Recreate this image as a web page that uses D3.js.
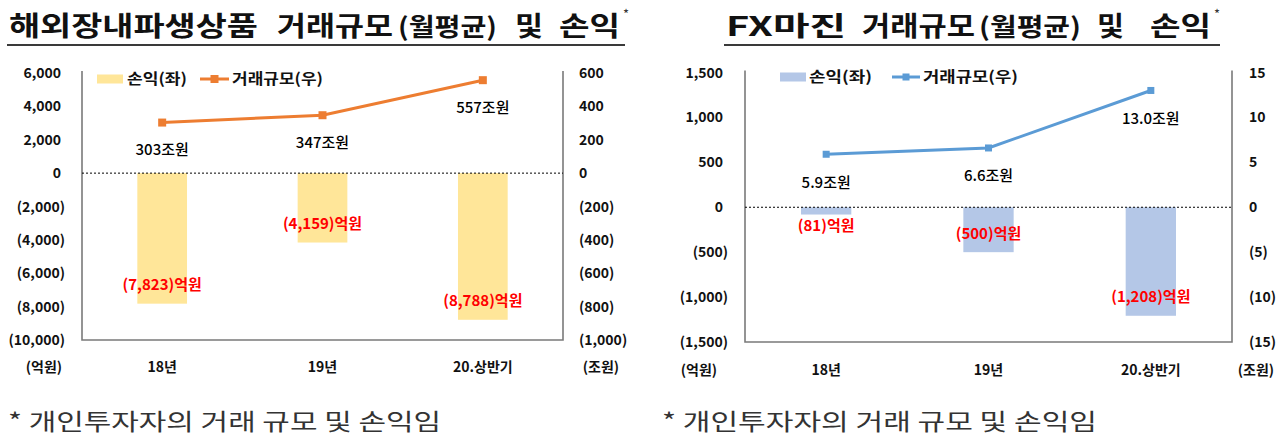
<!DOCTYPE html>
<html>
<head>
<meta charset="utf-8">
<script src="https://cdn.jsdelivr.net/npm/d3@7"></script>
<style>
  body { margin: 0; background: #fff; }
  svg { display: block; font-family: 'Noto Sans CJK KR', 'Noto Sans', sans-serif; }
</style>
</head>
<body>
<svg width="1280" height="448"></svg>
<script>
// Two side-by-side charts: 해외장내파생상품 / FX마진
const categories = ['18년', '19년', '20.상반기'];

const futuresPnl = [-7823, -4159, -8788];      // 억원 (left axis)
const futuresVolume = [303, 347, 557];          // 조원 (right axis)
const futuresLeftTicks = [6000, 4000, 2000, 0, -2000, -4000, -6000, -8000, -10000];
const futuresRightTicks = [600, 400, 200, 0, -200, -400, -600, -800, -1000];

const fxPnl = [-81, -500, -1208];               // 억원 (left axis)
const fxVolume = [5.9, 6.6, 13.0];              // 조원 (right axis)
const fxLeftTicks = [1500, 1000, 500, 0, -500, -1000, -1500];
const fxRightTicks = [15, 10, 5, 0, -5, -10, -15];

const legendNames = ['손익(좌)', '거래규모(우)'];
const unitNames = ['(억원)', '(조원)'];
const footnote = '* 개인투자자의 거래 규모 및 손익임';

const SVG = d3.select('svg');

const paren = v => v < 0 ? `(${d3.format(',')(-v)})` : d3.format(',')(v);

function drawTitle(pieces, star, underline) {
  pieces.forEach(p => {
    SVG.append('text')
       .attr('x', p.x0).attr('y', 36)
       .attr('textLength', p.x1 - p.x0)
       .attr('lengthAdjust', 'spacingAndGlyphs')
       .style('font-size', p.size + 'px')
       .style('font-weight', 700)
       .attr('fill', '#111')
       .text(p.t);
  });
  SVG.append('text').attr('x', star).attr('y', 19)
     .style('font-size', '13px').attr('fill', '#333').text('*');
  SVG.append('line')
     .attr('x1', underline[0]).attr('x2', underline[1])
     .attr('y1', 45).attr('y2', 45)
     .attr('stroke', '#3a3a3a').attr('stroke-width', 2);
}

function drawChart(c) {
  const g = SVG.append('g');

  const x = d3.scaleBand().domain(categories).range([c.x0, c.x1])
              .paddingInner(0.69).paddingOuter(0.345);
  const yL = d3.scaleLinear().domain(d3.extent(c.leftTicks)).range([c.yBot, c.yTop]);
  const yR = d3.scaleLinear().domain(d3.extent(c.rightTicks)).range([c.yBot, c.yTop]);
  const cx = d => x(d) + x.bandwidth() / 2;

  // bars
  g.selectAll('rect.bar').data(c.pnl).enter().append('rect')
   .attr('x', (d, i) => x(categories[i]))
   .attr('width', x.bandwidth())
   .attr('y', d => yL(Math.max(0, d)))
   .attr('height', d => Math.abs(yL(d) - yL(0)))
   .attr('fill', c.barColor);

  // frame: left, right, bottom
  const frame = `M${c.x0},${c.yTop - 2}V${c.yBot}H${c.x1}V${c.yTop - 2}`;
  g.append('path').attr('d', frame).attr('fill', 'none')
   .attr('stroke', '#7a7a7a').attr('stroke-width', 1.6);

  // zero line
  g.append('line').attr('x1', c.x0).attr('x2', c.x1)
   .attr('y1', yL(0)).attr('y2', yL(0))
   .attr('stroke', '#000').attr('stroke-width', 1).attr('stroke-dasharray', '2,2');

  // left ticks
  g.selectAll('text.lt').data(c.leftTicks).enter().append('text')
   .attr('x', c.leftLabelX).attr('dx', d => d < 0 ? 0 : -c.posShift)
   .attr('y', d => yL(d)).attr('dy', '0.36em')
   .attr('text-anchor', 'end')
   .style('font-size', '14px').style('font-weight', 700).attr('fill', '#111')
   .text(paren);

  // right ticks
  g.selectAll('text.rt').data(c.rightTicks).enter().append('text')
   .attr('x', c.rightLabelX)
   .attr('y', d => yR(d)).attr('dy', '0.36em')
   .style('font-size', '14px').style('font-weight', 700).attr('fill', '#111')
   .text(paren);

  // category labels
  g.selectAll('text.cat').data(categories).enter().append('text')
   .attr('x', cx).attr('y', c.catY).attr('dy', '0.36em')
   .attr('text-anchor', 'middle')
   .style('font-size', '14px').style('font-weight', 700).attr('fill', '#111')
   .text(d => d);

  // units
  [c.unitLeftX, c.unitRightX].forEach((ux, i) => {
    g.append('text').attr('x', ux).attr('y', c.catY).attr('dy', '0.36em')
     .attr('text-anchor', 'middle')
     .style('font-size', '14px').style('font-weight', 700).attr('fill', '#111')
     .text(unitNames[i]);
  });

  // volume line
  const line = d3.line().x((d, i) => cx(categories[i])).y(d => yR(d));
  g.append('path').datum(c.volume).attr('d', line)
   .attr('fill', 'none').attr('stroke', c.lineColor).attr('stroke-width', 3);
  g.selectAll('rect.mk').data(c.volume).enter().append('rect')
   .attr('x', (d, i) => cx(categories[i]) - c.marker / 2)
   .attr('y', d => yR(d) - c.marker / 2)
   .attr('width', c.marker).attr('height', c.marker)
   .attr('fill', c.lineColor);

  // volume labels
  g.selectAll('text.vl').data(c.volume).enter().append('text')
   .attr('x', (d, i) => cx(categories[i]))
   .attr('y', d => yR(d) + c.volLabelGap).attr('dy', '0.36em')
   .attr('text-anchor', 'middle')
   .style('font-size', '15px').style('font-weight', 500).attr('fill', '#000')
   .text(d => c.volFormat(d) + '조원');

  // pnl labels
  g.selectAll('text.pl').data(c.pnl).enter().append('text')
   .attr('x', (d, i) => cx(categories[i]))
   .attr('y', d => Math.max(yL(d) - 19, yL(0) + 18)).attr('dy', '0.36em')
   .attr('text-anchor', 'middle')
   .style('font-size', '15px').style('font-weight', 700).attr('fill', '#ff0000')
   .text(d => paren(d) + '억원');

  // legend
  const lg = c.legend;
  g.append('rect').attr('x', lg.boxX).attr('y', lg.y - 4.5)
   .attr('width', 26).attr('height', 9).attr('fill', c.barColor);
  g.append('text').attr('x', lg.text1[0]).attr('y', lg.y).attr('dy', '0.36em')
   .attr('textLength', lg.text1[1] - lg.text1[0]).attr('lengthAdjust', 'spacingAndGlyphs')
   .style('font-size', '15px').style('font-weight', 700).attr('fill', '#111')
   .text(legendNames[0]);
  g.append('line').attr('x1', lg.line[0]).attr('x2', lg.line[1])
   .attr('y1', lg.y).attr('y2', lg.y)
   .attr('stroke', c.lineColor).attr('stroke-width', 3);
  g.append('rect').attr('x', (lg.line[0] + lg.line[1]) / 2 - c.marker / 2)
   .attr('y', lg.y - c.marker / 2).attr('width', c.marker).attr('height', c.marker)
   .attr('fill', c.lineColor);
  g.append('text').attr('x', lg.text2[0]).attr('y', lg.y).attr('dy', '0.36em')
   .attr('textLength', lg.text2[1] - lg.text2[0]).attr('lengthAdjust', 'spacingAndGlyphs')
   .style('font-size', '15px').style('font-weight', 700).attr('fill', '#111')
   .text(legendNames[1]);

  // footnote
  SVG.append('text').attr('x', c.footX[0]).attr('y', 430)
     .attr('textLength', c.footX[1] - c.footX[0]).attr('lengthAdjust', 'spacingAndGlyphs')
     .style('font-size', '23px').attr('fill', '#333')
     .text(footnote);
}

// left chart
drawTitle([
  { t: '해외장내파생상품', x0: 9, x1: 258, size: 27 },
  { t: '거래규모', x0: 277, x1: 393, size: 27 },
  { t: '(월평균)', x0: 398, x1: 497, size: 25 },
  { t: '및', x0: 515, x1: 543, size: 27 },
  { t: '손익', x0: 559, x1: 620, size: 27 }
], 623, [7, 625]);

drawChart({
  x0: 82, x1: 563, yTop: 73, yBot: 340,
  leftTicks: futuresLeftTicks, rightTicks: futuresRightTicks,
  pnl: futuresPnl, volume: futuresVolume,
  barColor: '#ffe699', lineColor: '#ed7d31', marker: 8,
  leftLabelX: 65, rightLabelX: 579, posShift: 4,
  catY: 367, unitLeftX: 44, unitRightX: 601,
  volLabelGap: 27, volFormat: d3.format('d'),
  legend: { y: 79, boxX: 97, text1: [127, 187], line: [200, 229], text2: [232, 323] },
  footX: [8, 441]
});

// right chart
drawTitle([
  { t: 'FX마진', x0: 726, x1: 846, size: 27 },
  { t: '거래규모', x0: 862, x1: 975, size: 27 },
  { t: '(월평균)', x0: 979, x1: 1081, size: 25 },
  { t: '및', x0: 1097, x1: 1124, size: 27 },
  { t: '손익', x0: 1150, x1: 1211, size: 27 }
], 1214, [724, 1220]);

drawChart({
  x0: 745, x1: 1232, yTop: 72.5, yBot: 342,
  leftTicks: fxLeftTicks, rightTicks: fxRightTicks,
  pnl: fxPnl, volume: fxVolume,
  barColor: '#b4c7e7', lineColor: '#5b9bd5', marker: 7,
  leftLabelX: 728, rightLabelX: 1249, posShift: 5,
  catY: 370, unitLeftX: 699, unitRightX: 1256,
  volLabelGap: 28, volFormat: d3.format('.1f'),
  legend: { y: 77, boxX: 780, text1: [809, 872], line: [892, 920], text2: [923, 1018] },
  footX: [662, 1097]
});
</script>
</body>
</html>
